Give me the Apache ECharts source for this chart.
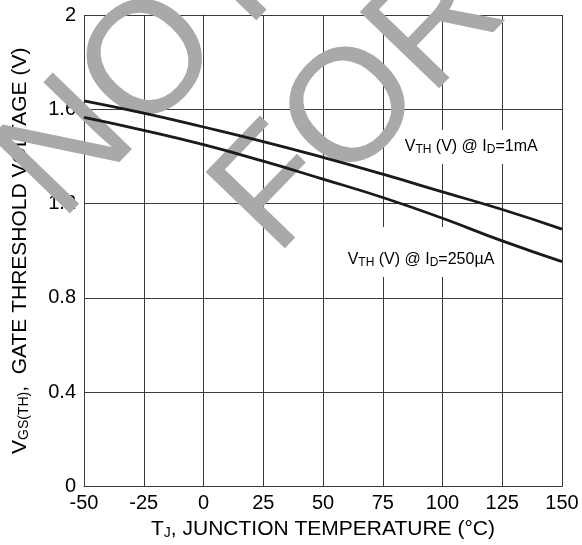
<!DOCTYPE html>
<html>
<head>
<meta charset="utf-8">
<script src="https://cdn.jsdelivr.net/npm/echarts@6/dist/echarts.min.js"></script>
<style>
  html, body { margin: 0; padding: 0; background: #fff; }
  #chart { width: 582px; height: 545px; }
</style>
</head>
<body>
<div id="chart"></div>
<script>
// junction temperature (°C)
const temps = [-50, -25, 0, 25, 50, 75, 100, 125, 150];
// gate threshold voltage (V)
const vth1mA = [1.636, 1.584, 1.525, 1.463, 1.396, 1.325, 1.250, 1.175, 1.092];
const vth250uA = [1.566, 1.511, 1.450, 1.380, 1.304, 1.226, 1.138, 1.042, 0.954];
const curveNames = ['V{sub|TH} (V) @ I{sub|D}=1mA', 'V{sub|TH} (V) @ I{sub|D}=250\u00b5A'];
// where the curve labels sit, in data units [temp, volts]
const labelAt = [[112, 1.44], [91, 0.995]];

const font = 'Liberation Sans, Arial, Helvetica, sans-serif';
const ink = '#1a1a1a';
const gridColor = '#3a3a3a';

function pairs(ys) {
  return temps.map((t, i) => [t, ys[i]]);
}

const subStyle = { fontSize: 14, fontFamily: font, color: '#000', padding: [8, 0, 0, 0] };

function curve(name, ys, at, pad) {
  return {
    type: 'line',
    name: name,
    data: pairs(ys),
    smooth: true,
    showSymbol: false,
    lineStyle: { color: ink, width: 2.8 },
    z: 6,
    markPoint: {
      symbol: 'circle',
      symbolSize: 1,
      itemStyle: { color: 'rgba(0,0,0,0)' },
      z: 4,
      data: [{
        coord: at,
        label: {
          show: true,
          position: 'inside',
          formatter: name,
          color: '#000',
          fontFamily: font,
          fontSize: 16,
          backgroundColor: '#fff',
          padding: pad,
          rich: {
            sub: { fontSize: 12, fontFamily: font, color: '#000', padding: [6, 0, 0, 0] }
          }
        }
      }]
    }
  };
}

const chart = echarts.init(document.getElementById('chart'), null, { renderer: 'canvas' });

const stamp = {
  fill: '#a9a9a9',
  font: '160px ' + font,
  align: 'left',
  verticalAlign: 'middle'
};

chart.setOption({
  animation: false,
  backgroundColor: '#fff',
  grid: { left: 84, right: 20, top: 15, bottom: 50, containLabel: false },
  xAxis: {
    type: 'value',
    min: -50,
    max: 150,
    interval: 25,
    name: 'T{sub|J}, JUNCTION TEMPERATURE (\u00b0C)',
    nameLocation: 'middle',
    nameGap: 27,
    nameTextStyle: {
      color: '#000', fontFamily: font, fontSize: 21,
      rich: { sub: subStyle }
    },
    axisLine: { show: true, lineStyle: { color: gridColor, width: 1 } },
    axisTick: { show: false },
    axisLabel: { color: '#000', fontFamily: font, fontSize: 20, margin: 7 },
    splitLine: { show: true, lineStyle: { color: gridColor, width: 1 } }
  },
  yAxis: {
    type: 'value',
    min: 0,
    max: 2,
    interval: 0.4,
    name: 'V{sub|GS(TH)},  GATE THRESHOLD VOLTAGE (V)',
    nameLocation: 'middle',
    nameRotate: 90,
    nameGap: 53,
    nameTextStyle: {
      color: '#000', fontFamily: font, fontSize: 21,
      rich: { sub: subStyle }
    },
    axisLine: { show: true, lineStyle: { color: gridColor, width: 1 } },
    axisTick: { show: false },
    axisLabel: { color: '#000', fontFamily: font, fontSize: 20, margin: 8 },
    splitLine: { show: true, lineStyle: { color: gridColor, width: 1 } }
  },
  // "not recommended" stamp across the plot
  graphic: [
    {
      type: 'text',
      x: 29, y: 192,
      rotation: 46 * Math.PI / 180,
      z: 1,
      silent: true,
      style: Object.assign({ text: 'NOT RECOMMENDED' }, stamp)
    },
    {
      type: 'text',
      x: 244, y: 227,
      rotation: 46 * Math.PI / 180,
      z: 1,
      silent: true,
      style: Object.assign({ text: 'FOR NEW DESIGN' }, stamp)
    }
  ],
  series: [
    curve(curveNames[0], vth1mA, labelAt[0], [8, 4, 8, 4]),
    curve(curveNames[1], vth250uA, labelAt[1], [24, 4, 8, 4])
  ]
});
</script>
</body>
</html>
